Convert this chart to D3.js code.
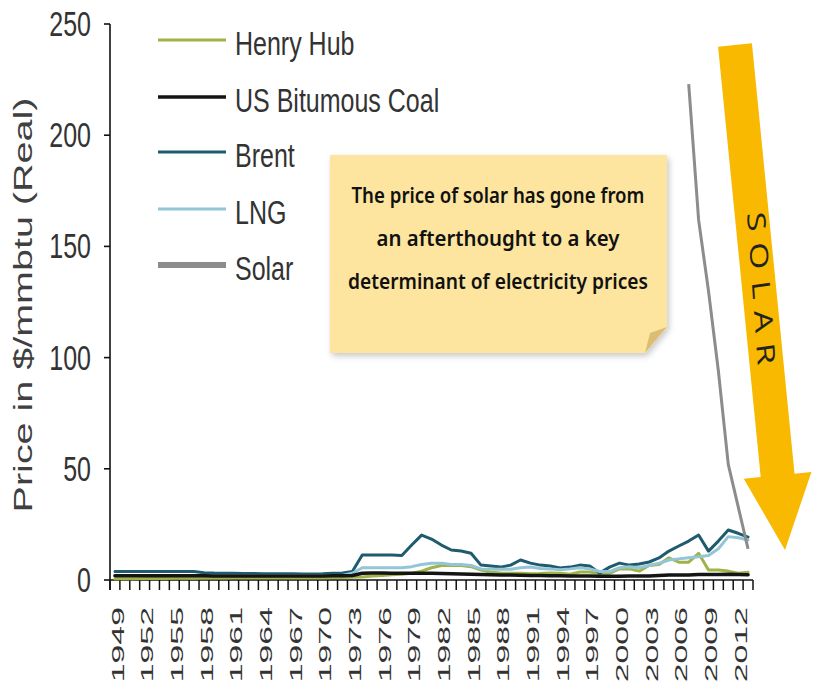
<!DOCTYPE html>
<html>
<head>
<meta charset="utf-8">
<script src="https://cdn.jsdelivr.net/npm/d3@7"></script>
<style>
  body { margin: 0; background: #fff; }
  svg { display: block; }
</style>
</head>
<body>
<svg id="chart" width="814" height="688"></svg>
<script>
// Annual prices, $/mmbtu (real), 1949-2013
const years = d3.range(1949, 2014);
const tickValues = [0, 50, 100, 150, 200, 250];
const yearLabels = years.filter((d, i) => i % 3 === 0);

const henryHub = [
  0.6, 0.6, 0.6, 0.7, 0.7, 0.7, 0.8, 0.8, 0.8, 0.9,
  0.9, 0.9, 1.0, 1.0, 1.0, 1.0, 1.0, 1.0, 1.0, 1.0,
  1.0, 1.0, 1.1, 1.1, 1.2, 1.4, 1.8, 2.0, 2.4, 2.6,
  3.0, 4.0, 5.5, 6.5, 6.5, 6.5, 6.0, 4.5, 3.5, 3.2,
  3.0, 3.0, 2.8, 2.9, 3.2, 3.0, 2.6, 3.6, 3.6, 2.8,
  3.0, 5.0, 5.0, 4.0, 6.5, 7.0, 10.0, 8.0, 8.0, 12.0,
  4.5, 4.5, 4.0, 3.0, 3.5
];
const usCoal = [
  1.9, 1.9, 1.9, 1.9, 1.9, 1.9, 1.9, 1.9, 1.9, 1.9,
  1.8, 1.8, 1.8, 1.8, 1.8, 1.8, 1.8, 1.8, 1.8, 1.8,
  1.8, 1.8, 1.9, 1.9, 2.0, 3.0, 3.2, 3.1, 3.0, 3.0,
  3.0, 3.0, 3.0, 2.9, 2.8, 2.7, 2.6, 2.5, 2.4, 2.3,
  2.2, 2.1, 2.0, 2.0, 1.9, 1.9, 1.8, 1.8, 1.8, 1.7,
  1.7, 1.7, 1.8, 1.8, 1.8, 2.0, 2.2, 2.3, 2.3, 2.5,
  2.5, 2.5, 2.6, 2.5, 2.4
];
const brent = [
  3.8, 3.8, 3.8, 3.8, 3.8, 3.8, 3.8, 3.8, 3.8, 3.3,
  3.1, 3.0, 3.0, 2.9, 2.9, 2.8, 2.8, 2.8, 2.8, 2.7,
  2.7, 2.8, 3.0, 3.1, 3.8, 11.2, 11.2, 11.2, 11.2, 11.0,
  15.7, 20.2, 18.4, 15.7, 13.5, 13.0, 12.0, 6.7, 6.3, 5.8,
  6.7, 9.0, 7.6, 6.7, 6.3, 5.4, 5.8, 6.7, 6.3, 3.1,
  5.8, 7.6, 6.7, 7.2, 8.1, 9.9, 13.0, 15.3, 17.5, 20.2,
  13.0, 17.5, 22.5, 21.0, 19.3
];
const lng = [
  2.0, 2.0, 2.0, 2.0, 2.0, 2.0, 2.0, 2.0, 2.0, 2.0,
  2.0, 2.0, 2.0, 2.0, 2.0, 2.0, 2.0, 2.0, 2.0, 2.0,
  2.0, 2.0, 2.0, 2.0, 3.0, 5.5, 5.5, 5.5, 5.5, 5.5,
  6.0, 7.0, 7.5, 7.5, 7.0, 7.0, 6.5, 5.0, 4.8, 4.8,
  4.8, 5.5, 5.8, 5.2, 5.0, 4.6, 5.0, 5.5, 5.0, 3.8,
  3.8, 5.5, 6.0, 5.5, 6.5, 7.5, 9.0, 9.5, 10.0, 10.5,
  11.0, 14.0, 19.5, 19.0, 18.0
];
const solarYears = [2007, 2008, 2009, 2010, 2011, 2012, 2013];
const solar = [223, 162, 130, 94, 52, 33, 14];

const seriesNames = ["Henry Hub", "US Bitumous Coal", "Brent", "LNG", "Solar"];
const seriesColors = ["#9fb446", "#141414", "#1f5b6e", "#93c5d6", "#8c8c8c"];
const legendWidths = [3, 3.5, 3, 3, 6];

const noteLines = [
  "The price of solar has gone from",
  "an afterthought to a key",
  "determinant of electricity prices"
];

const svg = d3.select("#chart");
const font = "'Liberation Sans', Arial, sans-serif";

const x = d3.scaleBand().domain(years).range([110, 753]).paddingInner(0).paddingOuter(0);
const y = d3.scaleLinear().domain([0, 250]).range([580, 24]);
const cx = d => x(d) + x.bandwidth() / 2;

// Shadow for the sticky note
const defs = svg.append("defs");
const f = defs.append("filter").attr("id", "noteShadow")
  .attr("x", "-10%").attr("y", "-10%").attr("width", "125%").attr("height", "130%");
f.append("feDropShadow").attr("dx", 2).attr("dy", 3).attr("stdDeviation", 3)
  .attr("flood-color", "#000").attr("flood-opacity", 0.22);

// ---- Y axis ----
const yAxis = svg.append("g");
yAxis.append("line").attr("x1", 110).attr("x2", 110)
  .attr("y1", y(250)).attr("y2", y(0) + 10)
  .attr("stroke", "#111").attr("stroke-width", 1.6);
yAxis.selectAll("line.tk").data(tickValues).join("line").attr("class", "tk")
  .attr("x1", 104).attr("x2", 110)
  .attr("y1", d => y(d)).attr("y2", d => y(d))
  .attr("stroke", "#111").attr("stroke-width", 1.6);
yAxis.selectAll("text").data(tickValues).join("text")
  .attr("transform", d => `translate(91,${y(d)}) scale(1,1.38)`)
  .attr("text-anchor", "end").attr("dominant-baseline", "central")
  .attr("font-family", font).attr("font-size", 25).attr("fill", "#333")
  .text(d => d);

svg.append("text")
  .attr("transform", "translate(32,305) scale(1,1.58) rotate(-90)")
  .attr("text-anchor", "middle")
  .attr("font-family", font).attr("font-size", 25).attr("fill", "#404040")
  .text("Price in $/mmbtu (Real)");

// ---- X axis ----
const xAxis = svg.append("g");
xAxis.append("line").attr("x1", 110).attr("x2", 753)
  .attr("y1", y(0)).attr("y2", y(0))
  .attr("stroke", "#111").attr("stroke-width", 1.6);
const bounds = years.map(d => x(d)).concat([x(years[years.length - 1]) + x.bandwidth()]);
xAxis.selectAll("line.tk").data(bounds).join("line").attr("class", "tk")
  .attr("x1", d => d).attr("x2", d => d)
  .attr("y1", y(0)).attr("y2", y(0) + 10)
  .attr("stroke", "#111").attr("stroke-width", 1.5);
xAxis.selectAll("text").data(yearLabels).join("text")
  .attr("transform", d => `translate(${cx(d) + 3},607) scale(1,2.05) rotate(-90)`)
  .attr("text-anchor", "end").attr("dominant-baseline", "central")
  .attr("font-family", font).attr("font-size", 16.5).attr("fill", "#333")
  .text(d => d);

// ---- Sticky note ----
const note = svg.append("g");
note.append("path")
  .attr("d", "M330,155 H667 V327 L645,353 H330 Z")
  .attr("fill", "#fde59f").attr("filter", "url(#noteShadow)");
note.append("path")
  .attr("d", "M667,327 L645,353 L650,333 Z")
  .attr("fill", "#dcbd74");
const noteWidths = [293, 243, 300];
const noteY = [195, 238, 281];
note.selectAll("text").data(noteLines).join("text")
  .attr("x", (d, i) => 498 - noteWidths[i] / 2).attr("y", (d, i) => noteY[i])
  .attr("dominant-baseline", "central")
  .attr("textLength", (d, i) => noteWidths[i]).attr("lengthAdjust", "spacingAndGlyphs")
  .attr("font-family", "'Noto Sans', sans-serif").attr("font-weight", 600)
  .attr("font-size", 21).attr("fill", "#111")
  .text(d => d);

// ---- Price lines ----
const line = d3.line().x(d => cx(d[0])).y(d => y(d[1])).curve(d3.curveLinear);
const plotted = [
  { values: henryHub, color: seriesColors[0], w: 3 },
  { values: brent, color: seriesColors[2], w: 3 },
  { values: lng, color: seriesColors[3], w: 3 },
  { values: usCoal, color: seriesColors[1], w: 3.5 }
];
svg.append("g").selectAll("path").data(plotted).join("path")
  .attr("d", s => line(years.map((yr, i) => [yr, s.values[i]])))
  .attr("fill", "none").attr("stroke", s => s.color).attr("stroke-width", s => s.w)
  .attr("stroke-linejoin", "round").attr("stroke-linecap", "round");

// ---- Arrow pointing down along the solar decline ----
const a0 = [735, 45], tip = [785, 550];
const len = Math.hypot(tip[0] - a0[0], tip[1] - a0[1]);
const u = [(tip[0] - a0[0]) / len, (tip[1] - a0[1]) / len];
const n = [-u[1], u[0]];
const headLen = 75, shaftHalf = 17, headHalf = 34;
const hb = [tip[0] - u[0] * headLen, tip[1] - u[1] * headLen];
const pt = (p, k) => [p[0] + n[0] * k, p[1] + n[1] * k];
const arrowPts = [pt(a0, shaftHalf), pt(a0, -shaftHalf), pt(hb, -shaftHalf), pt(hb, -headHalf),
  tip, pt(hb, headHalf), pt(hb, shaftHalf)];
svg.append("polygon").attr("points", arrowPts.map(p => p.join(",")).join(" "))
  .attr("fill", "#f8b900");
const angle = Math.atan2(u[1], u[0]) * 180 / Math.PI;
const tc = [a0[0] + u[0] * 250, a0[1] + u[1] * 250];
svg.append("text")
  .attr("transform", `translate(${tc[0] + 3},${tc[1]}) scale(1,1.4) rotate(${angle})`)
  .attr("text-anchor", "middle").attr("dominant-baseline", "central")
  .attr("font-family", "'Open Sans', sans-serif").attr("font-size", 25)
  .attr("letter-spacing", 8).attr("fill", "#222")
  .text("SOLAR");

// Solar line on top
svg.append("path")
  .attr("d", line(solarYears.map((yr, i) => [yr, solar[i]])))
  .attr("fill", "none").attr("stroke", seriesColors[4]).attr("stroke-width", 3)
  .attr("stroke-linejoin", "round");

// ---- Legend ----
const legendY = [40, 97, 152, 209, 265];
const lg = svg.append("g");
lg.selectAll("line").data(seriesNames).join("line")
  .attr("x1", 158).attr("x2", 226)
  .attr("y1", (d, i) => legendY[i]).attr("y2", (d, i) => legendY[i])
  .attr("stroke", (d, i) => seriesColors[i]).attr("stroke-width", (d, i) => legendWidths[i]);
lg.selectAll("text").data(seriesNames).join("text")
  .attr("transform", (d, i) => `translate(235,${legendY[i] + 4}) scale(1,1.3)`)
  .attr("dominant-baseline", "central")
  .attr("font-family", font).attr("font-size", 25).attr("fill", "#333")
  .text(d => d);
</script>
</body>
</html>
